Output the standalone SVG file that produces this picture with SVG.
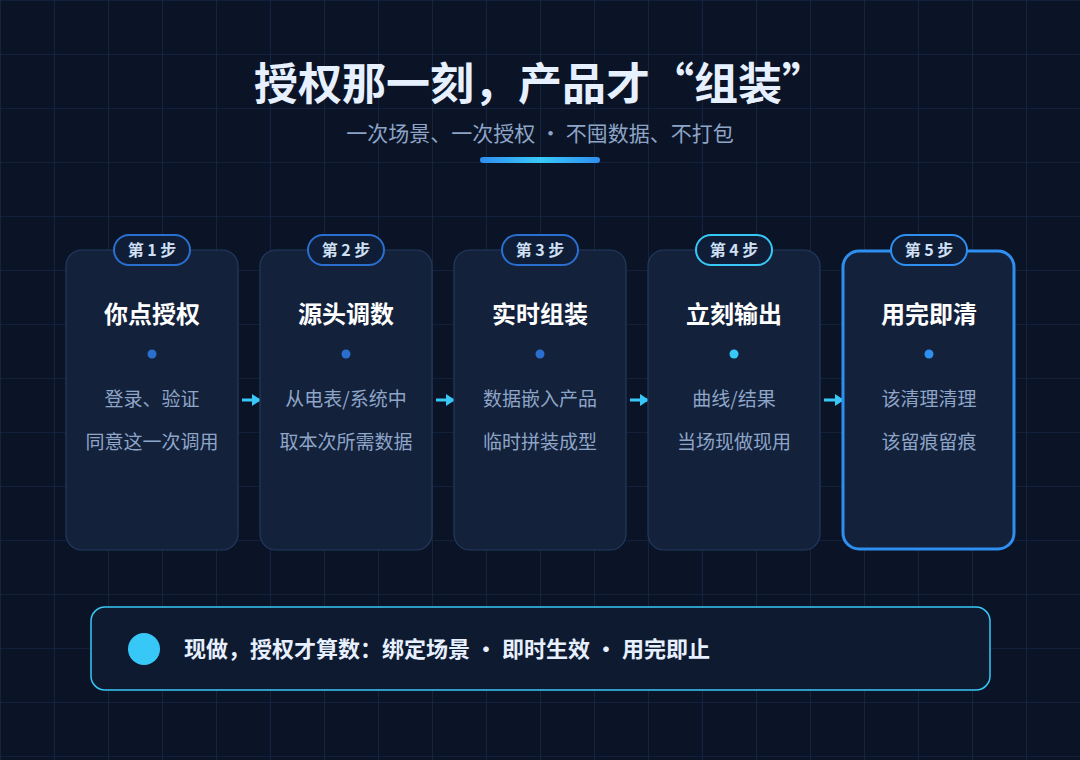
<svg xmlns="http://www.w3.org/2000/svg" width="1080" height="760" viewBox="0 0 1080 760">
<defs>
<pattern id="grid" width="54" height="54" patternUnits="userSpaceOnUse">
<path d="M54 0H0V54" fill="none" stroke="#1a2c4d" stroke-width="1.2"/>
</pattern>
<linearGradient id="bar" x1="0" x2="1"><stop offset="0" stop-color="#2f8ff0"/><stop offset="0.5" stop-color="#38c8f8"/><stop offset="1" stop-color="#2f8ff0"/></linearGradient>
<marker id="ah" markerWidth="9" markerHeight="12" refX="8" refY="6" orient="auto" markerUnits="userSpaceOnUse"><path d="M0 0L9 6L0 12Z" fill="#38c8f8"/></marker>
</defs>
<style>
text{font-family:"Noto Sans CJK SC","Noto Sans",sans-serif;text-anchor:middle}
.card{fill:#13213b;stroke:#233a5e;stroke-width:1.2}
.badge{fill:#0f1d36;stroke-width:2}
.bt{font-size:16px;font-weight:700;fill:#cfe0f5}
.t{font-size:24px;font-weight:700;fill:#ffffff}
.d{font-size:19px;fill:#8ea5c7}
</style>
<rect width="1080" height="760" fill="#0b1426"/>
<rect width="1080" height="760" fill="url(#grid)"/>
<text x="540" y="100" style="font-size:44px;font-weight:700;fill:#e6f0ff">授权那一刻，产品才“组装”</text>
<text x="540" y="141" style="font-size:21px;fill:#8ea5c7">一次场景、一次授权 · 不囤数据、不打包</text>
<rect x="480" y="157" width="120" height="6" rx="3" fill="url(#bar)"/>
<g id="connectors" stroke="#38c8f8" stroke-width="3" marker-end="url(#ah)">
<line x1="242" y1="400" x2="260" y2="400"/>
<line x1="436" y1="400" x2="454" y2="400"/>
<line x1="630" y1="400" x2="648" y2="400"/>
<line x1="824" y1="400" x2="843" y2="400"/>
</g>
<g id="step1"><rect class="card" x="66" y="250" width="172" height="300" rx="16"/><rect class="badge" stroke="#2a6fd0" x="114" y="235" width="76" height="30" rx="15"/><text class="bt" x="152" y="256">第 1 步</text><text class="t" x="152" y="323">你点授权</text><circle cx="152" cy="354" r="4.5" fill="#2a6fd0"/><text class="d" x="152" y="406">登录、验证</text><text class="d" x="152" y="449">同意这一次调用</text></g>
<g id="step2"><rect class="card" x="260" y="250" width="172" height="300" rx="16"/><rect class="badge" stroke="#2a6fd0" x="308" y="235" width="76" height="30" rx="15"/><text class="bt" x="346" y="256">第 2 步</text><text class="t" x="346" y="323">源头调数</text><circle cx="346" cy="354" r="4.5" fill="#2a6fd0"/><text class="d" x="346" y="406">从电表/系统中</text><text class="d" x="346" y="449">取本次所需数据</text></g>
<g id="step3"><rect class="card" x="454" y="250" width="172" height="300" rx="16"/><rect class="badge" stroke="#2a6fd0" x="502" y="235" width="76" height="30" rx="15"/><text class="bt" x="540" y="256">第 3 步</text><text class="t" x="540" y="323">实时组装</text><circle cx="540" cy="354" r="4.5" fill="#2a6fd0"/><text class="d" x="540" y="406">数据嵌入产品</text><text class="d" x="540" y="449">临时拼装成型</text></g>
<g id="step4"><rect class="card" x="648" y="250" width="172" height="300" rx="16"/><rect class="badge" stroke="#38c8f8" x="696" y="235" width="76" height="30" rx="15"/><text class="bt" x="734" y="256">第 4 步</text><text class="t" x="734" y="323">立刻输出</text><circle cx="734" cy="354" r="4.5" fill="#38c8f8"/><text class="d" x="734" y="406">曲线/结果</text><text class="d" x="734" y="449">当场现做现用</text></g>
<g id="step5"><rect class="card" style="stroke:#2f8ff0;stroke-width:3" x="843" y="251" width="171" height="298" rx="16"/><rect class="badge" stroke="#2f8ff0" x="891" y="235" width="76" height="30" rx="15"/><text class="bt" x="929" y="256">第 5 步</text><text class="t" x="929" y="323">用完即清</text><circle cx="929" cy="354" r="4.5" fill="#2f8ff0"/><text class="d" x="929" y="406">该清理清理</text><text class="d" x="929" y="449">该留痕留痕</text></g>
<g id="summary"><rect x="91" y="607" width="899" height="83" rx="14" fill="#0e1a30" stroke="#38c8f8" stroke-width="1.5"/><circle cx="144" cy="649" r="16" fill="#38c8f8"/><text x="184" y="657" style="text-anchor:start;font-size:22px;font-weight:700;fill:#e6f0ff">现做，授权才算数：绑定场景 • 即时生效 • 用完即止</text></g>
</svg>
